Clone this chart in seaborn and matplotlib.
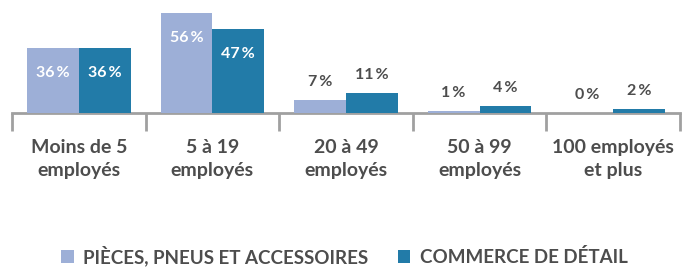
import matplotlib
matplotlib.use("Agg")
import matplotlib.pyplot as plt
import seaborn as sns
import pandas as pd
from matplotlib.patches import Patch

categories = ["Moins de 5\nemployés", "5 à 19\nemployés", "20 à 49\nemployés",
              "50 à 99\nemployés", "100 employés\net plus"]
series_names = ["PIÈCES, PNEUS ET ACCESSOIRES", "COMMERCE DE DÉTAIL"]
pieces = [36, 56, 7, 1, 0]
commerce = [36, 47, 11, 4, 2]
colors = ["#9DAFD7", "#227BA8"]

df = pd.DataFrame({
    "cat": categories * 2,
    "serie": [series_names[0]] * 5 + [series_names[1]] * 5,
    "val": pieces + commerce,
})

sns.set_theme(style="white")
plt.rcParams["font.family"] = ["Lato", "DejaVu Sans"]

fig = plt.figure(figsize=(6.83, 2.68), dpi=100)
ax = fig.add_axes([12 / 683, 155 / 268, 668 / 683, 113 / 268])
sns.barplot(data=df, x="cat", y="val", hue="serie", palette=colors,
            width=0.776, saturation=1, ax=ax, legend=False, order=categories,
            hue_order=series_names, linewidth=0, edgecolor="none")

ax.set_xlim(-0.5, 4.5)
ax.set_ylim(0, 63)
ax.set_xlabel("")
ax.set_ylabel("")
ax.set_yticks([])
for s in ["top", "right", "left"]:
    ax.spines[s].set_visible(False)
ax.spines["bottom"].set_color("#A0A0A0")
ax.spines["bottom"].set_linewidth(2)
ax.spines["bottom"].set_zorder(0.5)
ax.set_xticks(range(len(categories)))
ax.set_xticklabels(categories, fontweight="bold", linespacing=1.4)
ax.set_xticks([i - 0.5 for i in range(6)], minor=True)
ax.tick_params(axis="x", which="minor", length=13, width=2, color="#A0A0A0",
               direction="out", bottom=True)
ax.tick_params(axis="x", which="major", length=0, pad=19, labelsize=14,
               labelcolor="#4D4D4D")

for cont, vals in zip(ax.containers, [pieces, commerce]):
    for bar, v in zip(cont, vals):
        x = bar.get_x() + bar.get_width() / 2
        if v >= 20:
            ax.annotate(f"{v}\u2009%", (x, v), xytext=(0, -18), textcoords="offset points",
                        ha="center", va="center", color="white", fontsize=11.5,
                        fontweight="bold")
        else:
            ax.annotate(f"{v}\u2009%", (x, v), xytext=(0, 13), textcoords="offset points",
                        ha="center", va="center", color="#4D4D4D", fontsize=11.5,
                        fontweight="bold", annotation_clip=False)

handles = [Patch(facecolor=c, edgecolor="none") for c in colors]
leg = fig.legend(handles, series_names, loc="center",
                 bbox_to_anchor=(344.5 / 683, 1 - 256 / 268),
                 ncol=2, frameon=False, handlelength=0.68, handleheight=0.68,
                 handletextpad=0.53, columnspacing=1.55,
                 prop={"weight": "bold", "size": 13.5})
for t in leg.get_texts():
    t.set_color("#4D4D4D")

fig.savefig("out.png", dpi=100)
